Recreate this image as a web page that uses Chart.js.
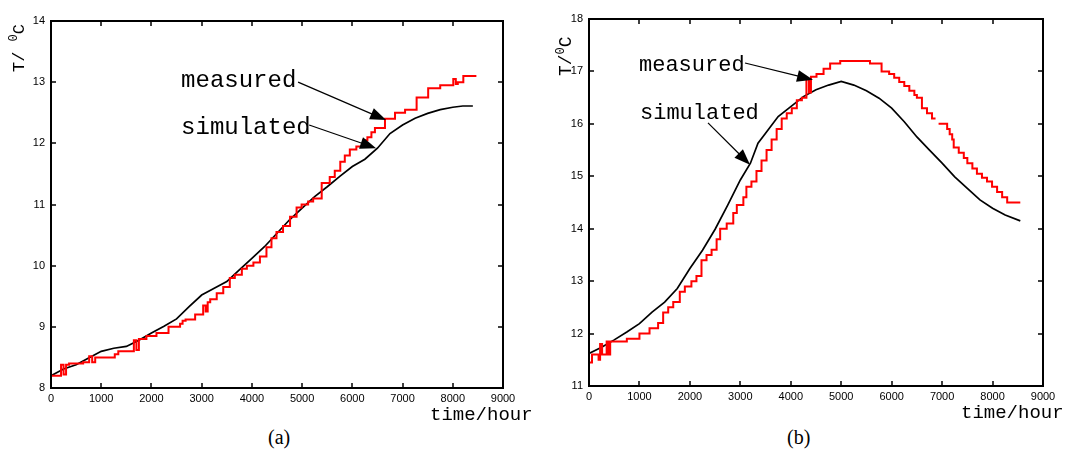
<!DOCTYPE html>
<html>
<head>
<meta charset="utf-8">
<script src="https://cdn.jsdelivr.net/npm/chart.js@4"></script>
<style>
  body { margin: 0; background: #fff; width: 1077px; height: 453px; overflow: hidden; position: relative; }
  canvas { position: absolute; top: 0; }
  #chart-a { left: 0; }
  #chart-b { left: 540px; }
  .cap { position: absolute; top: 426px; font: 20px/23px "Liberation Serif", serif; color: #000; }
</style>
</head>
<body>
<canvas id="chart-a" width="540" height="425"></canvas>
<canvas id="chart-b" width="537" height="425"></canvas>
<div class="cap" style="left:268px">(a)</div>
<div class="cap" style="left:787px">(b)</div>
<script>
// === Data: [time in hours, temperature in °C] ===

// (a) measured, step line
const measuredA = [
  [0, 8.2], [200, 8.38], [250, 8.22], [300, 8.38], [360, 8.4], [640, 8.42],
  [760, 8.52], [820, 8.42], [880, 8.5], [1270, 8.55], [1340, 8.6],
  [1650, 8.78], [1700, 8.62], [1750, 8.8], [1900, 8.85], [2100, 8.9],
  [2340, 9.0], [2570, 9.05], [2620, 9.1], [2680, 9.12], [2870, 9.2],
  [3030, 9.35], [3080, 9.25], [3120, 9.4], [3170, 9.45], [3300, 9.55],
  [3430, 9.65], [3560, 9.8], [3660, 9.85], [3800, 9.95], [3900, 10.0],
  [4030, 10.05], [4160, 10.15], [4290, 10.3], [4390, 10.45], [4490, 10.55],
  [4620, 10.65], [4760, 10.8], [4890, 10.95], [4990, 11.0], [5120, 11.05],
  [5220, 11.1], [5390, 11.35], [5550, 11.45], [5650, 11.55], [5760, 11.7],
  [5850, 11.8], [5950, 11.9], [6080, 11.95], [6220, 12.05], [6300, 12.1],
  [6380, 12.18], [6450, 12.25], [6650, 12.4], [6850, 12.5], [7050, 12.55],
  [7280, 12.75], [7510, 12.9], [7750, 12.95], [8010, 13.05], [8060, 12.97],
  [8100, 13.0], [8210, 13.1], [8470, 13.1]
];

// (a) simulated, smooth line
const simulatedA = [
  [0, 8.2], [250, 8.31], [500, 8.38], [750, 8.49], [1000, 8.6], [1250, 8.65],
  [1500, 8.68], [1750, 8.78], [2000, 8.9], [2250, 9.01], [2500, 9.13],
  [2750, 9.33], [3000, 9.52], [3250, 9.63], [3500, 9.74], [3750, 9.93],
  [4000, 10.12], [4250, 10.31], [4500, 10.53], [4750, 10.75], [5000, 10.94],
  [5250, 11.13], [5500, 11.29], [5750, 11.46], [6000, 11.62], [6250, 11.74],
  [6500, 11.92], [6750, 12.16], [7000, 12.3], [7250, 12.41], [7500, 12.49],
  [7750, 12.55], [8000, 12.59], [8200, 12.61], [8400, 12.61]
];

// (b) measured, step line (null = gap in the trace)
const measuredB = [
  [0, 11.45], [60, 11.6], [190, 11.5], [220, 11.8], [260, 11.6], [350, 11.85],
  [380, 11.6], [420, 11.85], [750, 11.9], [1000, 12.0], [1200, 12.1],
  [1370, 12.2], [1470, 12.4], [1570, 12.5], [1670, 12.6], [1800, 12.8],
  [1900, 12.9], [2030, 13.0], [2130, 13.1], [2230, 13.4], [2330, 13.5],
  [2430, 13.6], [2530, 13.8], [2600, 14.0], [2730, 14.1], [2860, 14.3],
  [2930, 14.45], [3060, 14.6], [3120, 14.8], [3220, 14.9], [3320, 15.1],
  [3420, 15.3], [3520, 15.5], [3620, 15.7], [3720, 15.9], [3820, 16.1],
  [3920, 16.2], [4020, 16.3], [4120, 16.45], [4220, 16.5], [4310, 16.85],
  [4360, 16.6], [4400, 16.9], [4510, 16.95], [4650, 17.05], [4780, 17.15],
  [4980, 17.2], [5570, 17.15], [5800, 17.0], [5950, 16.95], [6050, 16.88],
  [6150, 16.8], [6250, 16.72], [6350, 16.63], [6450, 16.55], [6500, 16.5],
  [6600, 16.3], [6700, 16.2], [6800, 16.1], [6870, 16.1], [6880, null],
  [6930, 16.0], [7060, 16.0], [7100, 15.9], [7150, 15.8], [7200, 15.7],
  [7230, 15.55], [7330, 15.45], [7430, 15.35], [7500, 15.25], [7600, 15.15],
  [7690, 15.05], [7790, 14.97], [7890, 14.9], [7990, 14.8], [8090, 14.7],
  [8190, 14.6], [8290, 14.5], [8550, 14.5]
];

// (b) simulated, smooth line
const simulatedB = [
  [0, 11.62], [250, 11.74], [500, 11.88], [750, 12.03], [1000, 12.19],
  [1250, 12.41], [1500, 12.6], [1750, 12.86], [2000, 13.24], [2250, 13.59],
  [2500, 13.99], [2750, 14.45], [3000, 14.93], [3200, 15.25], [3350, 15.63],
  [3500, 15.82], [3750, 16.14], [4000, 16.33], [4250, 16.52], [4500, 16.65],
  [4750, 16.74], [5000, 16.81], [5250, 16.74], [5500, 16.63], [5750, 16.49],
  [6000, 16.3], [6250, 16.04], [6500, 15.75], [6750, 15.5], [7000, 15.25],
  [7250, 14.99], [7500, 14.77], [7750, 14.55], [8000, 14.39], [8250, 14.26],
  [8550, 14.15]
];

// Axis ranges and labels
const xRange = [0, 9000];
const yRangeA = [8, 14];
const yRangeB = [11, 18];
const seriesNames = ['measured', 'simulated'];
const xTitle = 'time/hour';

// === Frame, inward ticks, annotations and axis titles ===
const framePlugin = {
  id: 'frame',
  afterDatasetsDraw(chart, args, opts) {
    const { ctx, chartArea: a, scales: { x, y } } = chart;
    ctx.save();
    ctx.strokeStyle = '#000';
    ctx.lineWidth = 2;
    ctx.strokeRect(a.left, a.top, a.right - a.left, a.bottom - a.top);

    ctx.lineWidth = 1.5;
    ctx.beginPath();
    x.ticks.forEach(t => {
      const px = Math.round(x.getPixelForValue(t.value));
      ctx.moveTo(px, a.bottom); ctx.lineTo(px, a.bottom - 5);
      ctx.moveTo(px, a.top); ctx.lineTo(px, a.top + 5);
    });
    y.ticks.forEach(t => {
      const py = Math.round(y.getPixelForValue(t.value));
      ctx.moveTo(a.left, py); ctx.lineTo(a.left + 5, py);
      ctx.moveTo(a.right, py); ctx.lineTo(a.right - 5, py);
    });
    ctx.stroke();

    // callouts: label text + arrow to the curve
    ctx.fillStyle = '#000';
    ctx.textBaseline = 'middle';
    ctx.textAlign = 'left';
    opts.callouts.forEach(c => {
      ctx.font = opts.calloutFont;
      ctx.fillText(c.text, x.getPixelForValue(c.at[0]), y.getPixelForValue(c.at[1]));
      const x0 = x.getPixelForValue(c.from[0]), y0 = y.getPixelForValue(c.from[1]);
      const x1 = x.getPixelForValue(c.to[0]), y1 = y.getPixelForValue(c.to[1]);
      const ang = Math.atan2(y1 - y0, x1 - x0);
      ctx.lineWidth = 1.2;
      ctx.beginPath();
      ctx.moveTo(x0, y0);
      ctx.lineTo(x1 - 12 * Math.cos(ang), y1 - 12 * Math.sin(ang));
      ctx.stroke();
      ctx.beginPath();
      ctx.moveTo(x1, y1);
      ctx.lineTo(x1 - 16 * Math.cos(ang) + 6 * Math.sin(ang), y1 - 16 * Math.sin(ang) - 6 * Math.cos(ang));
      ctx.lineTo(x1 - 16 * Math.cos(ang) - 6 * Math.sin(ang), y1 - 16 * Math.sin(ang) + 6 * Math.cos(ang));
      ctx.closePath();
      ctx.fill();
    });

    // x axis title under the right end
    ctx.font = opts.xTitleFont;
    ctx.fillText(xTitle, a.right + opts.xTitleOffset[0], a.bottom + opts.xTitleOffset[1]);

    // y axis title, rotated, with a raised 0 before C
    const yt = opts.yTitle;
    ctx.translate(yt.x, yt.y);
    ctx.rotate(-Math.PI / 2);
    ctx.textBaseline = 'alphabetic';
    ctx.font = yt.font;
    let cx = 0;
    ctx.fillText(yt.parts[0], cx, 0);
    cx += ctx.measureText(yt.parts[0]).width;
    ctx.font = yt.smallFont;
    ctx.fillText('0', cx, -7);
    cx += ctx.measureText('0').width;
    ctx.font = yt.font;
    ctx.fillText('C', cx, 0);
    ctx.restore();
  }
};

function makeChart(id, measured, simulated, yRange, layout, frame) {
  const tickFont = { family: '"Liberation Sans", Arial, sans-serif', size: 11 };
  return new Chart(document.getElementById(id), {
    type: 'line',
    data: {
      datasets: [
        {
          label: seriesNames[0],
          data: measured.map(([x, y]) => ({ x, y })),
          borderColor: '#ff0000',
          borderWidth: 2,
          stepped: true,
          pointRadius: 0,
          spanGaps: false
        },
        {
          label: seriesNames[1],
          data: simulated.map(([x, y]) => ({ x, y })),
          borderColor: '#000000',
          borderWidth: 1.7,
          tension: 0,
          pointRadius: 0
        }
      ]
    },
    options: {
      responsive: false,
      animation: false,
      devicePixelRatio: 1,
      layout: { padding: { left: 0, top: layout.top, right: layout.right, bottom: 0 } },
      plugins: {
        legend: { display: false },
        tooltip: { enabled: false },
        frame
      },
      scales: {
        x: {
          type: 'linear',
          min: xRange[0],
          max: xRange[1],
          afterFit: s => { s.height = layout.xHeight; },
          grid: { display: false, drawTicks: false },
          border: { display: false },
          ticks: {
            stepSize: 1000, padding: 4, color: '#000', font: tickFont,
            maxRotation: 0, autoSkip: false, callback: v => String(v)
          }
        },
        y: {
          type: 'linear',
          min: yRange[0],
          max: yRange[1],
          afterFit: s => { s.width = layout.yWidth; },
          grid: { display: false, drawTicks: false },
          border: { display: false },
          ticks: { stepSize: 1, padding: 6, color: '#000', font: tickFont, callback: v => String(v) }
        }
      }
    },
    plugins: [framePlugin]
  });
}

makeChart('chart-a', measuredA, simulatedA, yRangeA,
  { top: 21, right: 37, xHeight: 37, yWidth: 51 },
  {
    calloutFont: '24px "Liberation Mono", monospace',
    callouts: [
      { text: seriesNames[0], at: [2590, 13.02], from: [4920, 13.0], to: [6673, 12.38] },
      { text: seriesNames[1], at: [2590, 12.26], from: [5140, 12.3], to: [6474, 11.92] }
    ],
    xTitleFont: '19px "Liberation Mono", monospace',
    xTitleOffset: [-73, 27],
    yTitle: { x: 24, y: 72, parts: ['T/ '], font: '17px "Liberation Mono", monospace', smallFont: '12px "Liberation Mono", monospace' }
  });

makeChart('chart-b', measuredB, simulatedB, yRangeB,
  { top: 19, right: 34, xHeight: 39, yWidth: 49 },
  {
    calloutFont: '22px "Liberation Mono", monospace',
    callouts: [
      { text: seriesNames[0], at: [991, 17.12], from: [3093, 17.16], to: [4441, 16.84] },
      { text: seriesNames[1], at: [1011, 16.21], from: [2359, 16.02], to: [3192, 15.22] }
    ],
    xTitleFont: '19px "Liberation Mono", monospace',
    xTitleOffset: [-82, 27],
    yTitle: { x: 31, y: 76, parts: ['T/'], font: '18px "Liberation Mono", monospace', smallFont: '12px "Liberation Mono", monospace' }
  });
</script>
</body>
</html>
